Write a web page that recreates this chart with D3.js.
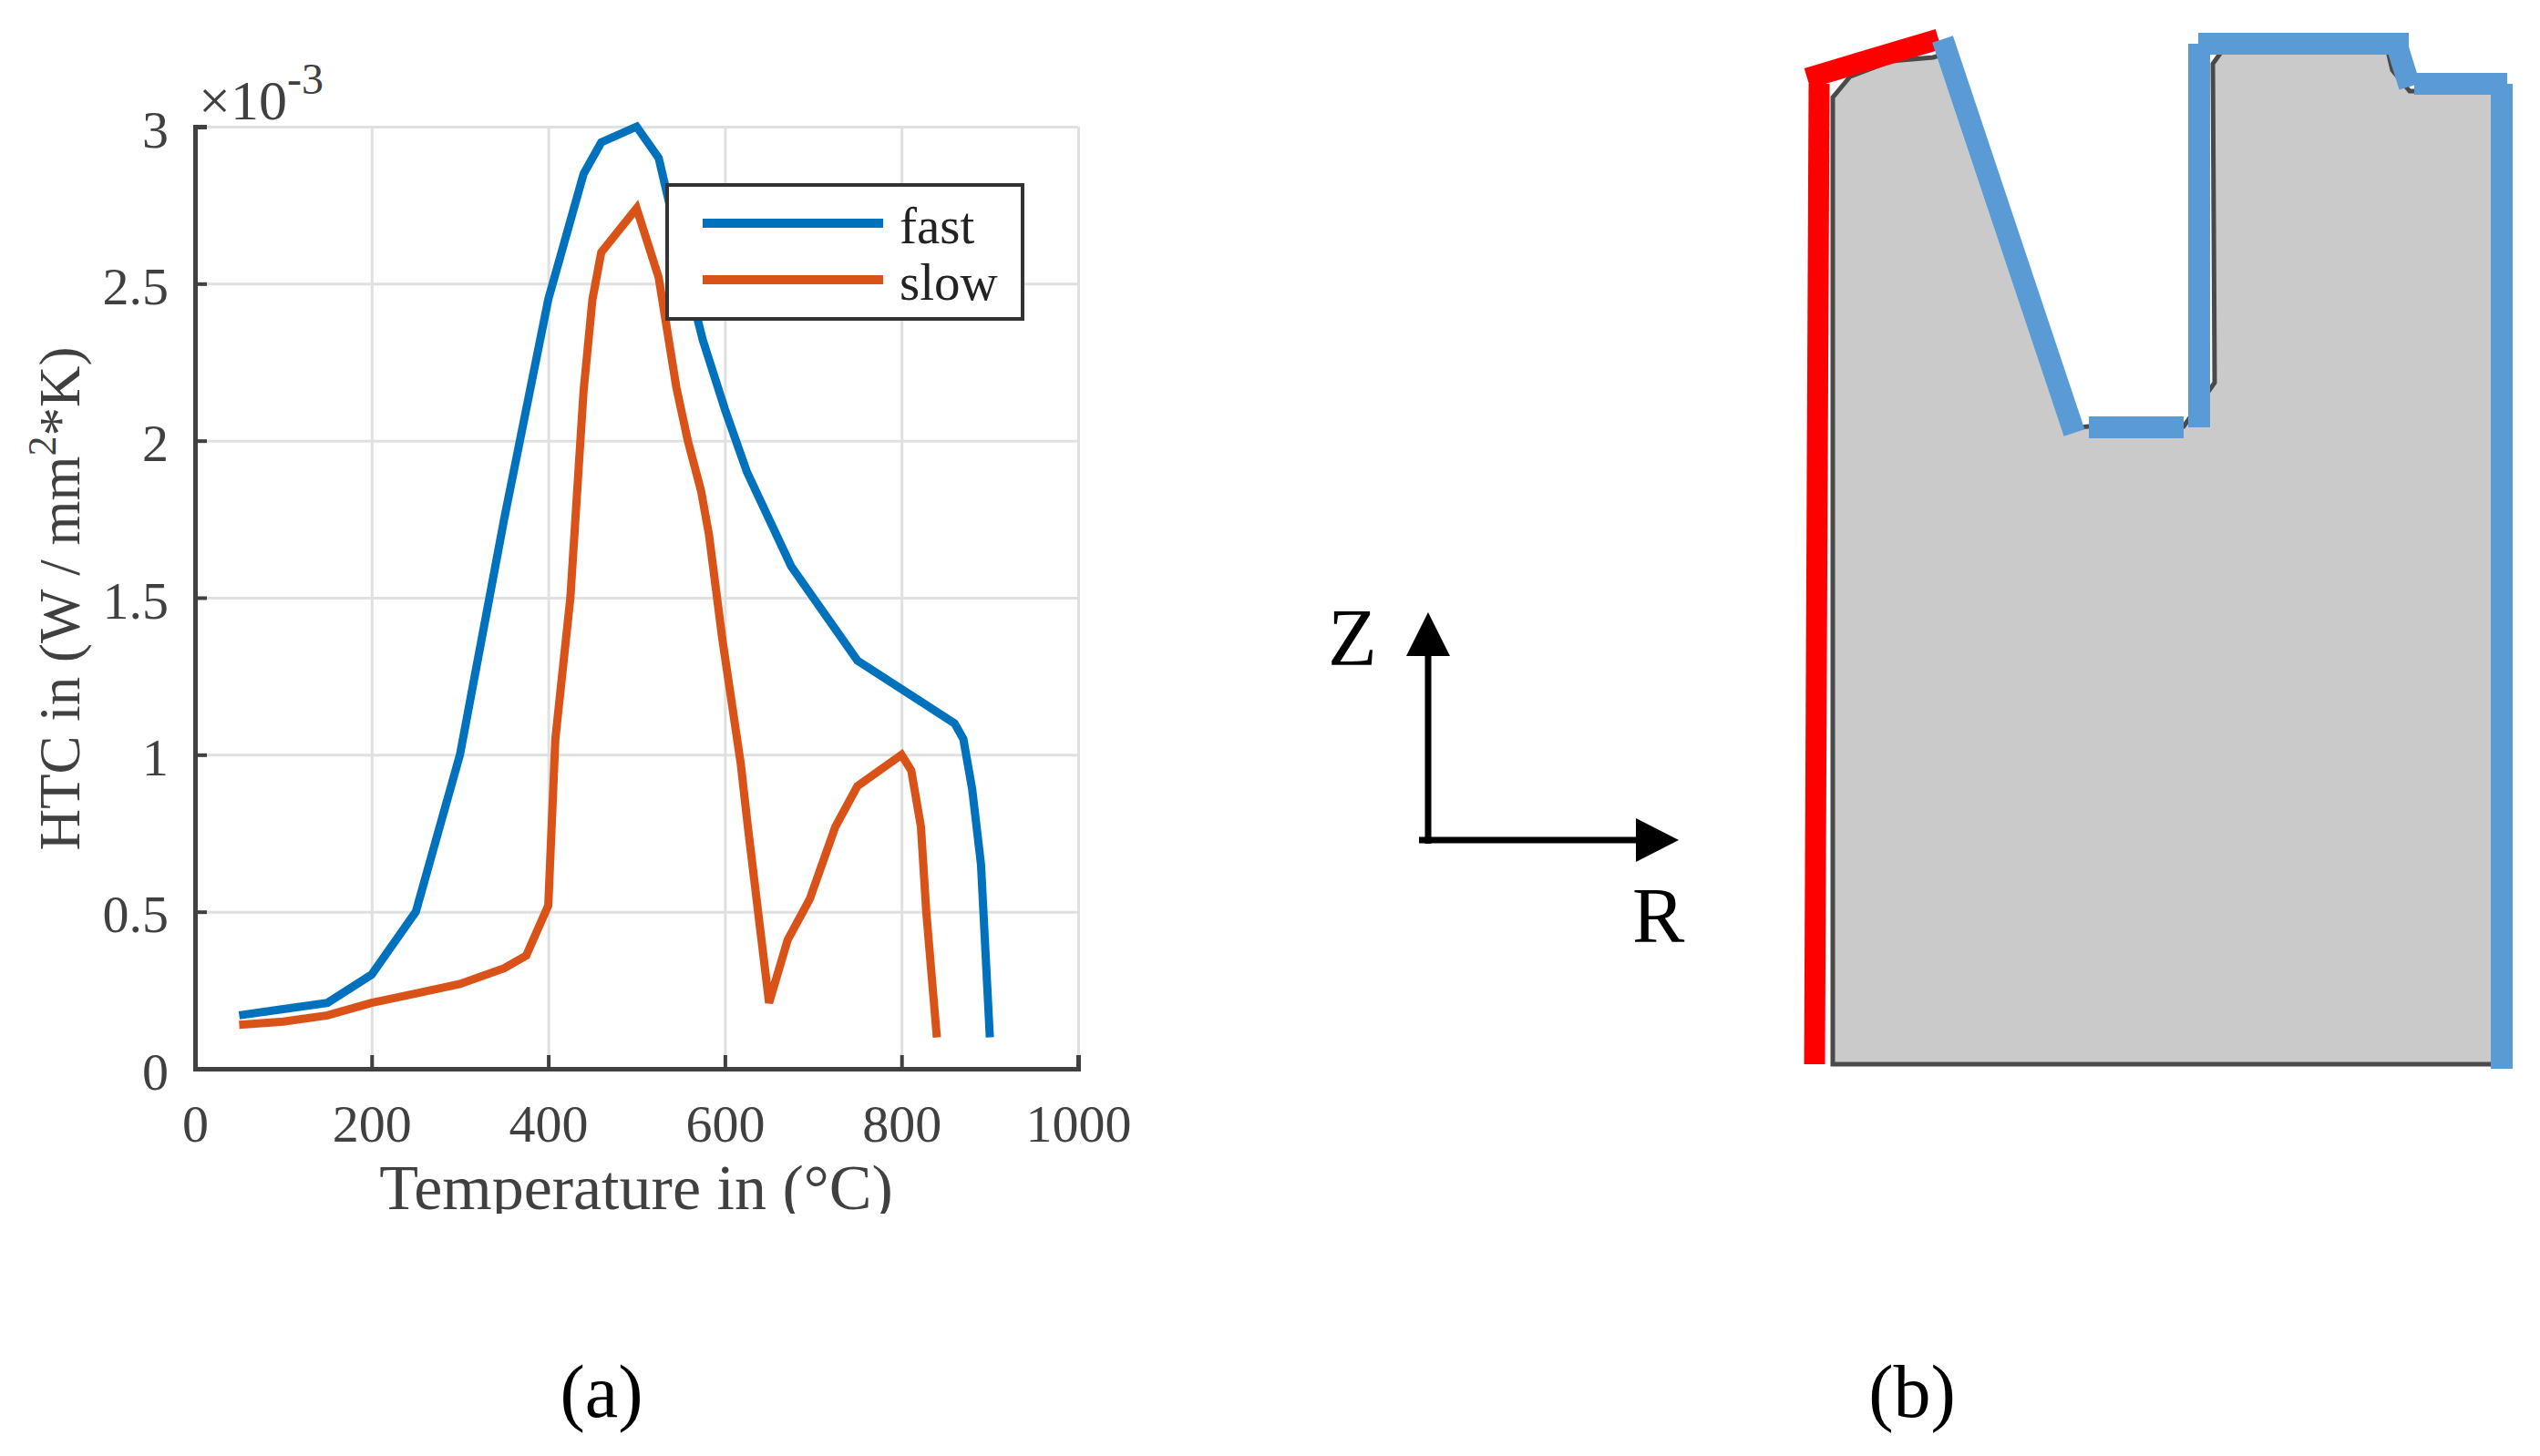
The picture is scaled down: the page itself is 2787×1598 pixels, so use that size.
<!DOCTYPE html>
<html>
<head>
<meta charset="utf-8">
<script src="https://cdn.jsdelivr.net/npm/d3@7"></script>
<style>
  html, body { margin: 0; padding: 0; background: #fff; }
  svg { display: block; }
  text { font-family: "Liberation Serif", serif; }
</style>
</head>
<body>
<div id="figure"></div>
<script>
// HTC in 1e-3 W/mm2K
const fastTemp = [50, 100, 150, 200, 250, 300, 350, 375, 400, 420, 440, 460, 500, 525, 550, 575, 600, 625, 675, 750, 860, 870, 880, 890, 900];
const fastHtc = [0.17, 0.19, 0.21, 0.3, 0.5, 1.0, 1.75, 2.1, 2.45, 2.65, 2.85, 2.95, 3.0, 2.9, 2.6, 2.32, 2.1, 1.9, 1.6, 1.3, 1.1, 1.05, 0.89, 0.65, 0.1];
const slowTemp = [50, 100, 150, 200, 250, 300, 350, 375, 400, 408, 425, 440, 450, 460, 500, 525, 545, 558, 573, 582, 597, 618, 626, 650, 671, 696, 725, 750, 800, 811, 822, 828, 840];
const slowHtc = [0.14, 0.15, 0.17, 0.21, 0.24, 0.27, 0.32, 0.36, 0.52, 1.05, 1.5, 2.16, 2.45, 2.6, 2.74, 2.52, 2.17, 2.0, 1.84, 1.7, 1.37, 0.97, 0.77, 0.21, 0.41, 0.54, 0.77, 0.9, 1.0, 0.95, 0.77, 0.5, 0.1];

const xTicks = [0, 200, 400, 600, 800, 1000];
const yTicks = [0, 0.5, 1, 1.5, 2, 2.5, 3];
const seriesNames = ["fast", "slow"];

// part (b): cross section, R and Z in drawing units
const profileR = [3.1, 3.1, 5, 9.5, 14.1, 15.1, 29.2, 31.2, 41.6, 44.5, 45, 44.8, 45.8, 64, 64.5, 66.4, 76.5, 76.5];
const profileZ = [0.5, 106.6, 108.9, 110.6, 111, 111.3, 70.3, 70.5, 70.5, 74.6, 75.3, 110.3, 111.7, 111.7, 109.6, 107.3, 107.3, 0.5];
const redEdges = [
  [[1.1, 0.5], [1.6, 108.1]],
  [[0.3, 108.7], [14.7, 113]],
];
const blueEdges = [
  [[15.15, 113], [29.6, 69.8]],
  [[31.2, 70.4], [41.6, 70.4]],
  [[43.3, 70.4], [43.3, 112.5]],
  [[43.2, 112.5], [66.3, 112.5]],
  [[65.1, 112], [66.4, 107.8]],
  [[66.9, 108.1], [77.1, 108.1]],
  [[76.5, 108.1], [76.5, 0]],
];

const width = 2787;
const height = 1598;
const plot = { left: 214, right: 1183, top: 139, bottom: 1173 };
const textColor = "#404040";
const fastColor = "#0072bd";
const slowColor = "#d95319";

const svg = d3
  .select("#figure")
  .append("svg")
  .attr("width", width)
  .attr("height", height);

const x = d3.scaleLinear().domain([0, 1000]).range([plot.left, plot.right]);
const y = d3.scaleLinear().domain([0, 3]).range([plot.bottom, plot.top]);

// grid
svg
  .append("g")
  .attr("transform", `translate(0,${plot.bottom})`)
  .call(d3.axisBottom(x).tickValues(xTicks).tickSize(plot.top - plot.bottom).tickFormat(""))
  .call((g) => g.select(".domain").remove())
  .selectAll("line")
  .attr("stroke", "#e0e0e0")
  .attr("stroke-width", 3);
svg
  .append("g")
  .attr("transform", `translate(${plot.left},0)`)
  .call(d3.axisLeft(y).tickValues(yTicks).tickSize(plot.left - plot.right).tickFormat(""))
  .call((g) => g.select(".domain").remove())
  .selectAll("line")
  .attr("stroke", "#e0e0e0")
  .attr("stroke-width", 3);

// axes
const xAxis = svg
  .append("g")
  .attr("transform", `translate(0,${plot.bottom})`)
  .call(d3.axisBottom(x).tickValues(xTicks).tickSize(-15).tickPadding(39).tickFormat(d3.format("d")));
const yAxis = svg
  .append("g")
  .attr("transform", `translate(${plot.left},0)`)
  .call(d3.axisLeft(y).tickValues(yTicks).tickSize(-13).tickPadding(29).tickFormat((d) => d));

[xAxis, yAxis].forEach((axis) => {
  axis.select(".domain").attr("stroke", textColor).attr("stroke-width", 5);
  axis.selectAll("line").attr("stroke", textColor).attr("stroke-width", 4);
  axis.selectAll("text").attr("fill", textColor).style("font-size", "58px");
});
yAxis.selectAll("text").attr("dy", "0.38em");

// curves
const line = d3
  .line()
  .x((d) => x(d[0]))
  .y((d) => y(d[1]));

svg
  .append("path")
  .attr("d", line(d3.zip(fastTemp, fastHtc)))
  .attr("fill", "none")
  .attr("stroke", fastColor)
  .attr("stroke-width", 9);
svg
  .append("path")
  .attr("d", line(d3.zip(slowTemp, slowHtc)))
  .attr("fill", "none")
  .attr("stroke", slowColor)
  .attr("stroke-width", 9);

// axis titles
svg
  .append("clipPath")
  .attr("id", "titleClip")
  .append("rect")
  .attr("x", 300)
  .attr("y", 1250)
  .attr("width", 800)
  .attr("height", 82);
svg
  .append("text")
  .attr("x", 698)
  .attr("y", 1327)
  .attr("text-anchor", "middle")
  .attr("clip-path", "url(#titleClip)")
  .attr("fill", textColor)
  .style("font-size", "70px")
  .text("Temperature in (°C)");

const yTitle = svg
  .append("text")
  .attr("transform", "translate(87,657) rotate(-90)")
  .attr("text-anchor", "middle")
  .attr("fill", textColor)
  .style("font-size", "63px");
yTitle.append("tspan").text("HTC in (W / mm");
yTitle.append("tspan").attr("dy", -26).style("font-size", "44px").text("2");
yTitle.append("tspan").attr("dy", 26).text("*K)");

const exponent = svg
  .append("text")
  .attr("x", 218)
  .attr("y", 131)
  .attr("fill", textColor)
  .style("font-size", "62px");
exponent.append("tspan").text("×10");
exponent.append("tspan").attr("dy", -28).style("font-size", "48px").text("-3");

// legend
svg
  .append("rect")
  .attr("x", 732)
  .attr("y", 203)
  .attr("width", 390)
  .attr("height", 147)
  .attr("fill", "#fff")
  .attr("stroke", "#333")
  .attr("stroke-width", 4);

const legendRows = svg
  .selectAll("legendRows")
  .data(seriesNames)
  .enter()
  .append("g")
  .attr("transform", (d, i) => `translate(0,${245 + i * 62})`);
legendRows
  .append("line")
  .attr("x1", 771)
  .attr("x2", 969)
  .attr("stroke", (d, i) => (i === 0 ? fastColor : slowColor))
  .attr("stroke-width", 10);
legendRows
  .append("text")
  .attr("x", 987)
  .attr("y", 22)
  .attr("fill", "#222")
  .style("font-size", "57px")
  .text((d) => d);

// part (b)
const r = d3.scaleLinear().domain([0, 80]).range([1980, 2780]);
const z = d3.scaleLinear().domain([0, 115]).range([1173, 23]);
const edge = d3
  .line()
  .x((d) => r(d[0]))
  .y((d) => z(d[1]));

svg
  .append("path")
  .attr("d", edge(d3.zip(profileR, profileZ)) + "Z")
  .attr("fill", "#cacaca")
  .attr("stroke", "#4a4a4a")
  .attr("stroke-width", 5);

svg
  .selectAll("redEdges")
  .data(redEdges)
  .enter()
  .append("path")
  .attr("d", edge)
  .attr("stroke", "#ff0000")
  .attr("stroke-width", 23);
svg
  .selectAll("blueEdges")
  .data(blueEdges)
  .enter()
  .append("path")
  .attr("d", edge)
  .attr("stroke", "#5b9bd5")
  .attr("stroke-width", 24);

// Z / R arrows
svg
  .append("path")
  .attr("d", "M1567,926V715M1557,922H1800")
  .attr("fill", "none")
  .attr("stroke", "#000")
  .attr("stroke-width", 7);
svg.append("path").attr("d", "M1543,720L1567,672L1591,720Z");
svg.append("path").attr("d", "M1795,898L1842,922L1795,946Z");
svg
  .append("text")
  .attr("x", 1457)
  .attr("y", 729)
  .style("font-size", "88px")
  .text("Z");
svg
  .append("text")
  .attr("x", 1791)
  .attr("y", 1034)
  .style("font-size", "86px")
  .text("R");

// panel captions
svg
  .append("text")
  .attr("x", 660)
  .attr("y", 1555)
  .attr("text-anchor", "middle")
  .style("font-size", "82px")
  .text("(a)");
svg
  .append("text")
  .attr("x", 2098)
  .attr("y", 1555)
  .attr("text-anchor", "middle")
  .style("font-size", "82px")
  .text("(b)");
</script>
</body>
</html>
